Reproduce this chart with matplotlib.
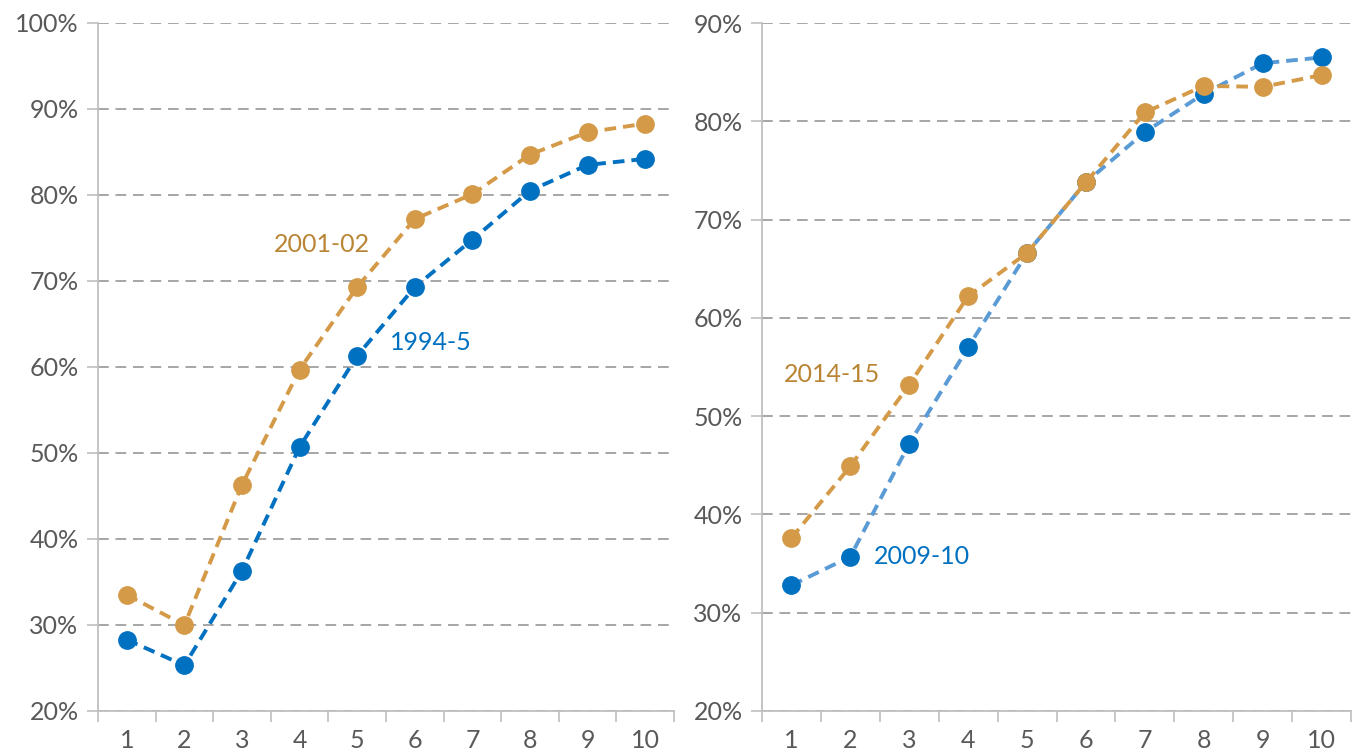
import matplotlib.pyplot as plt
from matplotlib.ticker import FuncFormatter, FixedLocator

plt.rcParams['font.family'] = ['Lato', 'DejaVu Sans']

deciles = [1, 2, 3, 4, 5, 6, 7, 8, 9, 10]

# left panel
y1994 = [28.3, 25.3, 36.3, 50.7, 61.3, 69.3, 74.8, 80.5, 83.5, 84.2]
y2001 = [33.5, 30.0, 46.3, 59.7, 69.3, 77.2, 80.1, 84.7, 87.3, 88.3]
# right panel
y2009 = [32.8, 35.7, 47.2, 57.0, 66.6, 73.8, 78.9, 82.8, 85.9, 86.5]
y2014 = [37.6, 44.9, 53.2, 62.2, 66.6, 73.8, 80.9, 83.6, 83.5, 84.7]

BLUE = '#0070C0'
LBLUE = '#5B9BD5'
ORANGE = '#D49A48'
ORANGE_TXT = '#B98534'
GRID = '#A6A6A6'
SPINE = '#BFBFBF'
TXT = '#595959'

fig = plt.figure(figsize=(13.57, 7.56), dpi=100)
ax1 = fig.add_axes([98/1357, 1-711/756, 576/1357, 688/756])
ax2 = fig.add_axes([762/1357, 1-711/756, 589/1357, 688/756])


def style(ax, ylo, yhi):
	ax.set_xlim(0.5, 10.5)
	ax.set_ylim(ylo, yhi)
	ax.set_yticks(range(ylo, yhi + 1, 10))
	ax.yaxis.set_major_formatter(FuncFormatter(lambda v, p: '%d%%' % v))
	ax.xaxis.set_major_locator(FixedLocator([d - 0.5 for d in deciles] + [10.5]))
	ax.xaxis.set_major_formatter(FuncFormatter(lambda v, p: ''))
	ax.xaxis.set_minor_locator(FixedLocator(deciles))
	ax.xaxis.set_minor_formatter(FuncFormatter(lambda v, p: '%d' % v))
	ax.tick_params(axis='x', which='major', length=8, color=SPINE, width=1.2)
	ax.tick_params(axis='x', which='minor', length=0, labelsize=18, labelcolor=TXT, pad=13)
	ax.tick_params(axis='y', length=8, color=SPINE, width=1.2, labelsize=18, labelcolor=TXT, pad=6)
	ax.grid(axis='y', color=GRID, linestyle=(0, (5.5, 3.5)), linewidth=1.4)
	for s in ['top', 'right']:
		ax.spines[s].set_visible(False)
	for s in ['left', 'bottom']:
		ax.spines[s].set_color(SPINE)
		ax.spines[s].set_linewidth(1.3)
	ax.set_axisbelow(True)


style(ax1, 20, 100)
style(ax2, 20, 90)

dash = (0, (3, 1.8))
lw = 2.8
ms = 12.5
ax1.plot(deciles, y2001, color=ORANGE, linestyle=dash, linewidth=lw,
	marker='o', markersize=ms, markerfacecolor=ORANGE, markeredgecolor=ORANGE, clip_on=False)
ax1.plot(deciles, y1994, color=BLUE, linestyle=dash, linewidth=lw,
	marker='o', markersize=ms, markerfacecolor=BLUE, markeredgecolor=BLUE, clip_on=False)
ax1.text(4.39, 74.2, '2001-02', color=ORANGE_TXT, fontsize=18, ha='center', va='center')
ax1.text(6.28, 62.8, '1994-5', color=BLUE, fontsize=18, ha='center', va='center')

ax2.plot(deciles, y2009, color=LBLUE, linestyle=dash, linewidth=lw,
	marker='o', markersize=ms, markerfacecolor=BLUE, markeredgecolor=BLUE, clip_on=False)
ax2.plot(deciles, y2014, color=ORANGE, linestyle=dash, linewidth=lw,
	marker='o', markersize=ms, markerfacecolor=ORANGE, markeredgecolor=ORANGE, clip_on=False)
ax2.text(1.69, 54.2, '2014-15', color=ORANGE_TXT, fontsize=18, ha='center', va='center')
ax2.text(3.22, 35.7, '2009-10', color=BLUE, fontsize=18, ha='center', va='center')

fig.savefig('out.png', dpi=100)
